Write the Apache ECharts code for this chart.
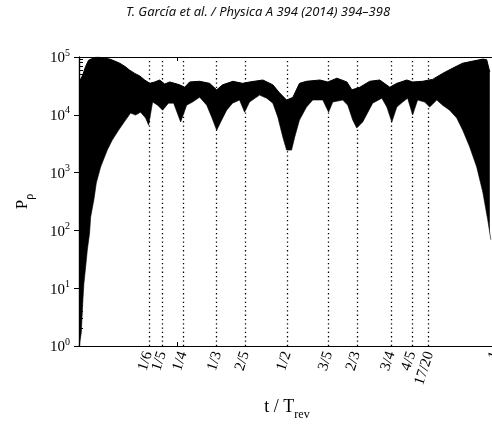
<!DOCTYPE html>
<html><head><meta charset="utf-8">
<script src="https://cdn.jsdelivr.net/npm/echarts@6/dist/echarts.min.js"></script>
<style>html,body{margin:0;padding:0;background:#fff}#c{width:492px;height:427px}</style>
</head><body><div id="c"></div>
<script>
// Upper envelope of P_rho (t / T_rev, value)
const upperT = [0.0005,0.009,0.016,0.023,0.033,0.04,0.05,0.062,0.074,0.086,0.098,0.11,0.122,0.134,0.146,0.158,0.17,0.182,0.194,0.206,0.218,0.23,0.242,0.254,0.266,0.29,0.314,0.331,0.345,0.37,0.393,0.41,0.442,0.466,0.482,0.499,0.514,0.53,0.547,0.579,0.598,0.62,0.644,0.656,0.675,0.699,0.723,0.747,0.764,0.788,0.802,0.826,0.85,0.874,0.898,0.922,0.947,0.971,0.98,0.9875];
const upperP = [3.7e4,4.9e4,6.9e4,8.8e4,9.5e4,9.9e4,9.9e4,9.5e4,9.2e4,8.5e4,7.8e4,6.9e4,5.9e4,5.2e4,4.7e4,4.0e4,3.5e4,3.7e4,4.0e4,3.4e4,3.7e4,3.5e4,3.3e4,3.0e4,3.7e4,3.8e4,3.5e4,2.7e4,3.3e4,3.8e4,3.5e4,3.7e4,4.0e4,3.3e4,2.4e4,1.8e4,2.0e4,3.5e4,3.8e4,4.0e4,3.7e4,4.3e4,3.7e4,2.7e4,3.0e4,3.8e4,4.0e4,3.0e4,3.5e4,4.0e4,3.7e4,3.8e4,4.1e4,5.2e4,6.4e4,7.8e4,8.5e4,9.2e4,9.0e4,5.5e4];
// Lower envelope of P_rho
const lowerT = [0.0005,0.0055,0.0094,0.0118,0.0159,0.020,0.0255,0.028,0.0358,0.0416,0.052,0.068,0.080,0.095,0.112,0.124,0.136,0.148,0.160,0.1674,0.177,0.189,0.201,0.215,0.2275,0.2444,0.2588,0.273,0.290,0.307,0.319,0.331,0.343,0.355,0.369,0.386,0.398,0.410,0.434,0.451,0.466,0.478,0.490,0.499,0.511,0.5185,0.530,0.547,0.562,0.586,0.600,0.610,0.634,0.646,0.658,0.6676,0.682,0.706,0.728,0.740,0.752,0.764,0.778,0.790,0.802,0.814,0.831,0.843,0.860,0.874,0.891,0.908,0.9225,0.939,0.956,0.9706,0.9827,0.990];
const lowerP = [1,1.7,6.3,12,23,46,90,170,340,660,1250,2450,3650,5400,8100,10700,9900,11100,8800,6600,16600,14700,12000,15900,15900,7500,14700,16600,20200,14700,9100,5400,8100,12000,15900,18000,11100,16600,21900,19400,15900,9100,4100,2450,2450,4100,8100,13600,18000,18000,11100,16600,18000,14700,8100,5900,7500,15900,19400,13600,7500,13600,16600,19400,9900,18000,16600,13600,18000,14700,12000,8800,5400,2800,1250,460,150,69];
// Dotted reference lines and their tick labels
const markT = [1/6,1/5,1/4,1/3,2/5,1/2,3/5,2/3,3/4,4/5,0.843];
const markLabels = ['1/6','1/5','1/4','1/3','2/5','1/2','3/5','2/3','3/4','4/5','17/20'];
const xLabelT = markT.concat([1]);
const xLabelText = markLabels.concat(['1']);
const yMajor = [1,10,100,1000,10000,100000];
const yMinor = [];
for (let d = 1; d < 1e5; d *= 10) for (let k = 1; k <= 9; k++) yMinor.push(k*d);
yMinor.push(1e5);

const serif = 'Liberation Serif';
const chart = echarts.init(document.getElementById('c'), null, {renderer:'canvas'});
const upperData = upperT.map((t,i)=>[t, upperP[i]]);
const lowerData = lowerT.map((t,i)=>[t, lowerP[i]]);

function fracLabel(v) {
  for (let i = 0; i < xLabelT.length; i++) if (Math.abs(xLabelT[i]-v) < 1e-6) return xLabelText[i];
  return '';
}
// split labels over two bottom axes so that neighbouring labels are not culled
const labelsA = xLabelT.filter((v,i)=>i % 2 === 0);
const labelsB = xLabelT.filter((v,i)=>i % 2 === 1);
const labelStyle = {rotate: 72, margin: 6, interval: 0, hideOverlap: false,
  showMinLabel: true, showMaxLabel: true, fontFamily: serif, fontSize: 15, color: '#000',
  formatter: fracLabel};

chart.setOption({
  animation: false,
  backgroundColor: '#fff',
  graphic: [{
    type: 'text', x: 258, y: 6, z: 100,
    style: {text: 'T. García et al. / Physica A 394 (2014) 394–398', fill: '#111',
      font: 'italic 13px "Noto Sans"', align: 'center', verticalAlign: 'top'}
  }],
  grid: {left: 79, right: -3, top: 57, bottom: 81, show: false, containLabel: false, outerBoundsMode: 'none'},
  xAxis: [{
    type: 'value', min: 0, max: 1, z: 10,
    axisLine: {show: true, onZero: false, lineStyle: {color: '#000', width: 1.2}},
    splitLine: {show: false},
    axisTick: {show: true, inside: true, length: 4, customValues: [0.236], lineStyle: {color: '#000'}},
    axisLabel: Object.assign({customValues: labelsA}, labelStyle),
    name: '{a|t / T}{b|rev}', nameLocation: 'middle', nameGap: 52,
    nameTextStyle: {rich: {
      a: {fontFamily: serif, fontSize: 18, color: '#000', verticalAlign: 'bottom', padding: [0,0,5,0]},
      b: {fontFamily: serif, fontSize: 12, color: '#000', verticalAlign: 'bottom'}
    }}
  }, {
    type: 'value', min: 0, max: 1, position: 'top', z: 10,
    axisLine: {show: true, lineStyle: {color: '#000', width: 1.2}},
    splitLine: {show: false},
    axisTick: {show: true, inside: true, length: 4, customValues: [0.236], lineStyle: {color: '#000'}},
    axisLabel: {show: false}
  }, {
    type: 'value', min: 0, max: 1, position: 'bottom', z: 10,
    axisLine: {show: false, onZero: false},
    splitLine: {show: false},
    axisTick: {show: false},
    axisLabel: Object.assign({customValues: labelsB}, labelStyle)
  }],
  yAxis: [{
    type: 'log', logBase: 10, min: 1, max: 1e5, z: 10,
    axisLine: {show: true, lineStyle: {color: '#000', width: 1.2}},
    splitLine: {show: false},
    minorTick: {show: false},
    axisTick: {show: true, inside: true, length: 4, customValues: yMinor, lineStyle: {color: '#000'}},
    axisLabel: {
      customValues: yMajor, margin: 9, showMinLabel: true, showMaxLabel: true,
      formatter: function (v) { return '{a|10}{b|' + Math.round(Math.log10(v)) + '}'; },
      rich: {
        a: {fontFamily: serif, fontSize: 15, color: '#000', verticalAlign: 'bottom', padding: [0,0,0,0]},
        b: {fontFamily: serif, fontSize: 10, color: '#000', verticalAlign: 'bottom', padding: [0,0,8,0]}
      }
    },
    name: '{p|P}{r|ρ}', nameLocation: 'middle', nameGap: 43, nameRotate: 90,
    nameTextStyle: {rich: {
      p: {fontFamily: serif, fontSize: 17, color: '#000', verticalAlign: 'bottom', padding: [0,0,5,0]},
      r: {fontFamily: serif, fontSize: 12, color: '#000', verticalAlign: 'bottom'}
    }}
  }, {
    type: 'log', logBase: 10, min: 1, max: 1e5, position: 'right', z: 10,
    axisLine: {show: true, lineStyle: {color: '#000', width: 1.2}},
    splitLine: {show: false},
    axisTick: {show: true, inside: true, length: 5, customValues: yMajor, lineStyle: {color: '#000'}},
    axisLabel: {show: false}
  }],
  series: [{
    type: 'line', data: upperData, z: 2, symbol: 'none', smooth: false,
    lineStyle: {color: '#000', width: 1},
    areaStyle: {color: '#000', opacity: 1, origin: 'start'}
  }, {
    type: 'line', data: lowerData, z: 3, symbol: 'none', smooth: false,
    lineStyle: {color: '#000', width: 0.6},
    areaStyle: {color: '#fff', opacity: 1, origin: 'start'},
    markLine: {
      silent: true, symbol: ['none','none'], label: {show: false},
      lineStyle: {color: '#000', type: [1.3, 3], width: 1.3},
      data: markT.map(v => ({xAxis: v}))
    }
  }]
});
</script>
</body></html>
